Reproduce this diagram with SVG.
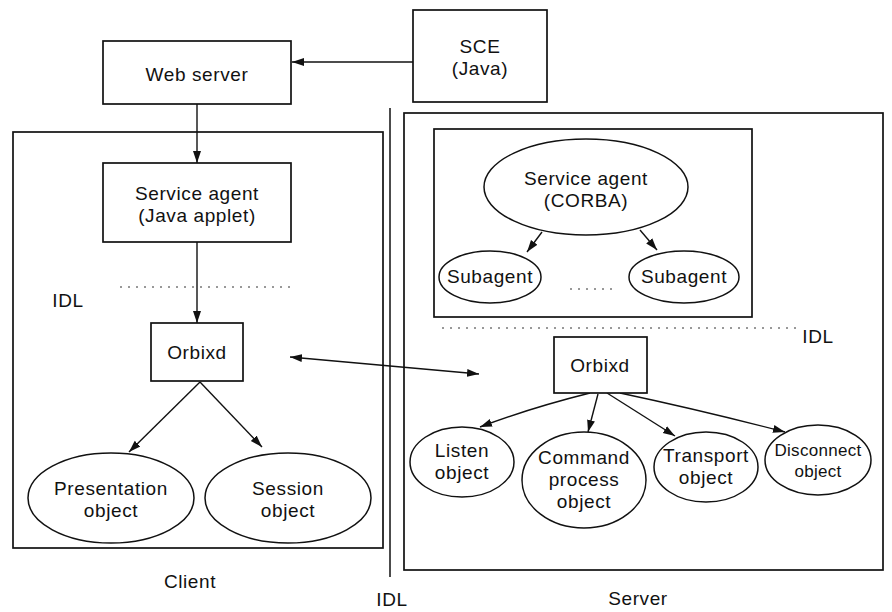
<svg xmlns="http://www.w3.org/2000/svg" width="892" height="612" viewBox="0 0 892 612">
  <defs>
    <marker id="arr" viewBox="0 0 12 10" refX="12" refY="5" markerWidth="12" markerHeight="10" markerUnits="userSpaceOnUse" orient="auto-start-reverse">
      <path d="M0,1 L12,5 L0,9 Z" fill="#111"/>
    </marker>
  </defs>
  <style>
    .box { fill: #fff; stroke: #111; stroke-width: 1.7; }
    .frame { fill: none; stroke: #111; stroke-width: 1.7; }
    .ell { fill: #fff; stroke: #111; stroke-width: 1.5; }
    .edge { fill: none; stroke: #111; stroke-width: 1.4; marker-end: url(#arr); }
    .dots { fill: none; stroke: #333; stroke-width: 1; stroke-dasharray: 2 6; }
    text { font-family: "Liberation Sans", Arial, sans-serif; font-size: 19px; letter-spacing: 0.6px; fill: #111; text-anchor: middle; }
    .sm { font-size: 17px; letter-spacing: 0.3px; }
  </style>
  <rect width="892" height="612" fill="#fff"/>

  <!-- frames -->
  <g id="client-frame">
    <rect class="frame" x="13" y="132" width="370" height="416"/>
    <text x="190" y="588">Client</text>
  </g>
  <g id="server-frame">
    <rect class="frame" x="404" y="113" width="479" height="457"/>
    <rect class="frame" x="434" y="129" width="318" height="188"/>
    <text x="638" y="605">Server</text>
  </g>
  <g id="divider">
    <line x1="390" y1="108" x2="390" y2="577" stroke="#111" stroke-width="1.5"/>
    <text x="392" y="606">IDL</text>
  </g>

  <!-- IDL boundaries -->
  <g id="idl-client">
    <line class="dots" x1="120" y1="287" x2="292" y2="287"/>
    <text x="68" y="307">IDL</text>
  </g>
  <g id="idl-server">
    <line class="dots" x1="442" y1="328" x2="797" y2="328"/>
    <text x="818" y="343">IDL</text>
  </g>

  <!-- connectors -->
  <g id="connectors">
    <line class="edge" x1="413" y1="62" x2="292" y2="62"/>
    <line class="edge" x1="197" y1="104" x2="197" y2="163"/>
    <line class="edge" x1="197" y1="242" x2="197" y2="323"/>
    <line class="edge" x1="200" y1="382" x2="129" y2="452"/>
    <line class="edge" x1="200" y1="382" x2="262" y2="447"/>
    <line class="edge" x1="290" y1="357" x2="479" y2="374" marker-start="url(#arr)"/>
    <line class="edge" x1="542" y1="232" x2="527" y2="252"/>
    <line class="edge" x1="640" y1="230" x2="657" y2="250"/>
    <path class="edge" d="M590,393 Q530,408 480,427"/>
    <line class="edge" x1="598" y1="394" x2="588" y2="432"/>
    <line class="edge" x1="607" y1="393" x2="675" y2="436"/>
    <path class="edge" d="M620,393 Q700,410 785,432"/>
  </g>

  <!-- client nodes -->
  <g id="web-server">
    <rect class="box" x="103" y="41" width="188" height="63"/>
    <text x="197" y="81">Web server</text>
  </g>
  <g id="sce">
    <rect class="box" x="413" y="10" width="134" height="92"/>
    <text x="480" y="53">SCE</text>
    <text x="480" y="75">(Java)</text>
  </g>
  <g id="service-agent-applet">
    <rect class="box" x="103" y="163" width="188" height="79"/>
    <text x="197" y="200">Service agent</text>
    <text x="197" y="222">(Java applet)</text>
  </g>
  <g id="orbixd-client">
    <rect class="box" x="151" y="323" width="92" height="58"/>
    <text x="197" y="359">Orbixd</text>
  </g>
  <g id="presentation-object">
    <ellipse class="ell" cx="111" cy="498" rx="83" ry="45"/>
    <text x="111" y="495">Presentation</text>
    <text x="111" y="517">object</text>
  </g>
  <g id="session-object">
    <ellipse class="ell" cx="288" cy="498" rx="83" ry="45"/>
    <text x="288" y="495">Session</text>
    <text x="288" y="517">object</text>
  </g>

  <!-- server nodes -->
  <g id="service-agent-corba">
    <ellipse class="ell" cx="586" cy="187" rx="102" ry="48"/>
    <text x="586" y="185">Service agent</text>
    <text x="586" y="207">(CORBA)</text>
  </g>
  <g id="subagent-1">
    <ellipse class="ell" cx="490" cy="277" rx="51" ry="26"/>
    <text x="490" y="283">Subagent</text>
  </g>
  <g id="subagent-2">
    <ellipse class="ell" cx="684" cy="277" rx="55" ry="26"/>
    <text x="684" y="283">Subagent</text>
  </g>
  <g id="subagent-gap">
    <line class="dots" x1="570" y1="289" x2="614" y2="289" stroke-dasharray="2 5"/>
  </g>
  <g id="orbixd-server">
    <rect class="box" x="554" y="337" width="93" height="56"/>
    <text x="600" y="372">Orbixd</text>
  </g>
  <g id="listen-object">
    <ellipse class="ell" cx="462" cy="462" rx="52" ry="35"/>
    <text x="462" y="457">Listen</text>
    <text x="462" y="479">object</text>
  </g>
  <g id="command-process-object">
    <ellipse class="ell" cx="584" cy="480" rx="62" ry="48"/>
    <text x="584" y="464">Command</text>
    <text x="584" y="486">process</text>
    <text x="584" y="508">object</text>
  </g>
  <g id="transport-object">
    <ellipse class="ell" cx="706" cy="467" rx="52" ry="35"/>
    <text x="706" y="462">Transport</text>
    <text x="706" y="484">object</text>
  </g>
  <g id="disconnect-object">
    <ellipse class="ell" cx="818" cy="460" rx="53" ry="35"/>
    <text class="sm" x="818" y="456">Disconnect</text>
    <text class="sm" x="818" y="477">object</text>
  </g>
</svg>
